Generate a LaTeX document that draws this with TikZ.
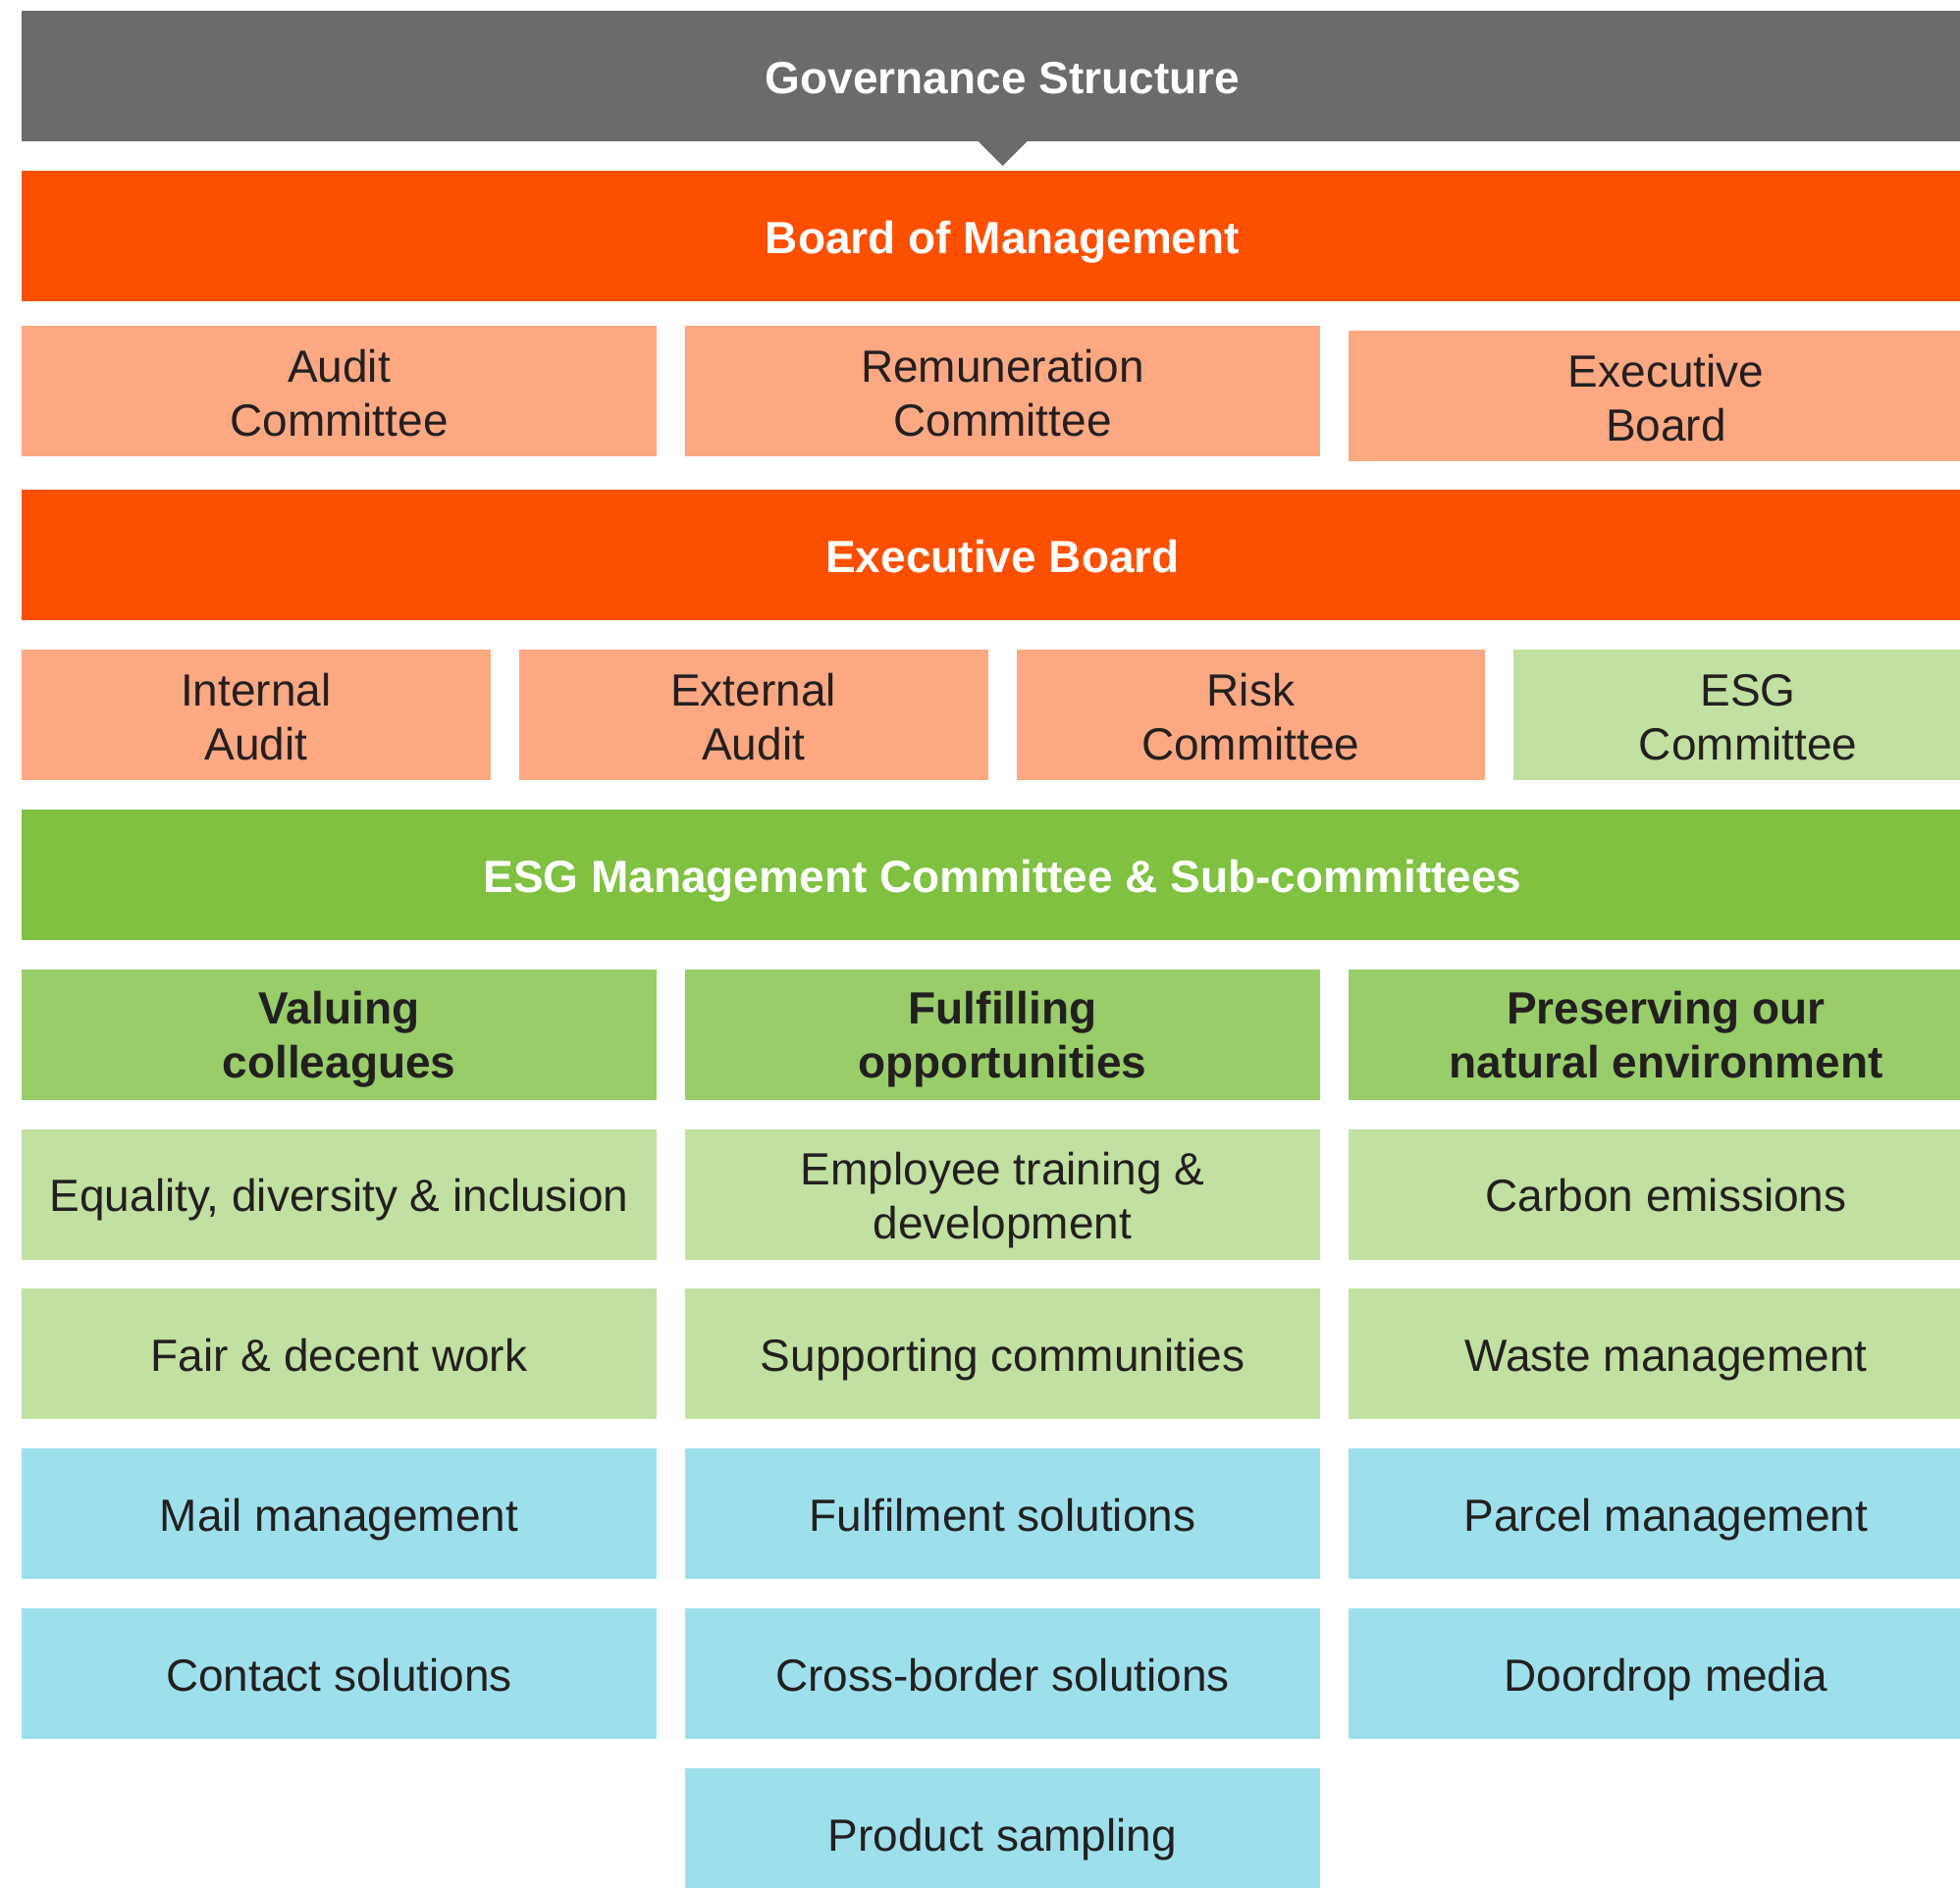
\documentclass[tikz,border=0pt]{standalone}
\usepackage{fontspec}
\setmainfont{Liberation Sans}
\definecolor{govgray}{RGB}{107,107,107}
\definecolor{boardorange}{RGB}{252,80,0}
\definecolor{salmon}{RGB}{252,168,131}
\definecolor{palegreen}{RGB}{193,224,161}
\definecolor{esggreen}{RGB}{128,193,65}
\definecolor{midgreen}{RGB}{152,205,105}
\definecolor{paleblue}{RGB}{157,224,236}
\definecolor{ink}{RGB}{35,31,32}
% last line of a two-line label: keep its descenders out of the centring
\newcommand{\flatline}[1]{\raisebox{0pt}[\height][0pt]{#1}}
% a little extra head room on the first line of a two-line label
\newcommand{\tallline}{\rule{0pt}{36pt}}
\tikzset{
  cell/.style={anchor=north west, inner sep=0pt, outer sep=0pt, align=center,
    text=ink, font=\fontsize{46}{55}\selectfont, minimum height=133pt},
  oneline/.style={text height=35.6pt, text depth=0pt},
  wide/.style={cell, oneline, minimum width=1999pt, text=white,
    font=\fontsize{46}{55}\selectfont\bfseries},
  third/.style={cell, minimum width=647pt},
  quarter/.style={cell, minimum width=477.75pt},
  heading/.style={font=\fontsize{46}{55}\selectfont\bfseries},
}
\begin{document}
\begin{tikzpicture}[x=1pt,y=-1pt]
\useasboundingbox (0,0) rectangle (1997,1924);
\clip (0,0) rectangle (1997,1924);

% title banner with its pointer
\node[wide, fill=govgray] (gov) at (22,11) {Governance Structure};
\fill[govgray] ([xshift=-25pt]gov.south) -- ([xshift=25pt]gov.south)
  -- ([yshift=-25pt]gov.south) -- cycle;

% board level
\node[wide, fill=boardorange] (bom) at (22,173.8) {Board of Management};
\node[third, fill=salmon] (audit) at (22,332) {\tallline Audit\\\flatline{Committee}};
\node[third, fill=salmon] (remun) at (698,332) {\tallline Remuneration\\\flatline{Committee}};
\node[third, fill=salmon] (execb) at (1374,337) {\tallline Executive\\\flatline{Board}};

% executive level
\node[wide, fill=boardorange] (exec) at (22,499.4) {Executive Board};
\node[quarter, fill=salmon] (intaudit) at (22,662.2) {\tallline Internal\\\flatline{Audit}};
\node[quarter, fill=salmon] (extaudit) at (528.75,662.2) {\tallline External\\\flatline{Audit}};
\node[quarter, fill=salmon] (risk) at (1035.5,662.2) {\tallline Risk\\\flatline{Committee}};
\node[quarter, fill=palegreen] (esgc) at (1542.25,662.2) {\tallline ESG\\\flatline{Committee}};

% ESG management
\node[wide, fill=esggreen] (esgm) at (22,825) {ESG Management Committee \& Sub-committees};

% pillars
\node[third, fill=midgreen, heading] (val) at (22,987.8) {Valuing\\\flatline{colleagues}};
\node[third, fill=midgreen, heading] (ful) at (698,987.8) {Fulfilling\\\flatline{opportunities}};
\node[third, fill=midgreen, heading] (pre) at (1374,987.8) {Preserving our\\\flatline{natural environment}};

% sub-committees
\node[third, oneline, fill=palegreen] (edi) at (22,1150.6) {Equality, diversity \& inclusion};
\node[third, fill=palegreen] (train) at (698,1150.6) {\tallline Employee training \&\\\flatline{development}};
\node[third, oneline, fill=palegreen] (carbon) at (1374,1150.6) {Carbon emissions};
\node[third, oneline, fill=palegreen] (fair) at (22,1313.4) {Fair \& decent work};
\node[third, oneline, fill=palegreen] (comm) at (698,1313.4) {Supporting communities};
\node[third, oneline, fill=palegreen] (waste) at (1374,1313.4) {Waste management};

% business units
\node[third, oneline, fill=paleblue] (mail) at (22,1476.2) {Mail management};
\node[third, oneline, fill=paleblue] (fulfil) at (698,1476.2) {Fulfilment solutions};
\node[third, oneline, fill=paleblue] (parcel) at (1374,1476.2) {Parcel management};
\node[third, oneline, fill=paleblue] (contact) at (22,1639) {Contact solutions};
\node[third, oneline, fill=paleblue] (cross) at (698,1639) {Cross-border solutions};
\node[third, oneline, fill=paleblue] (door) at (1374,1639) {Doordrop media};
\node[third, oneline, fill=paleblue] (sample) at (698,1801.8) {Product sampling};
\end{tikzpicture}
\end{document}
